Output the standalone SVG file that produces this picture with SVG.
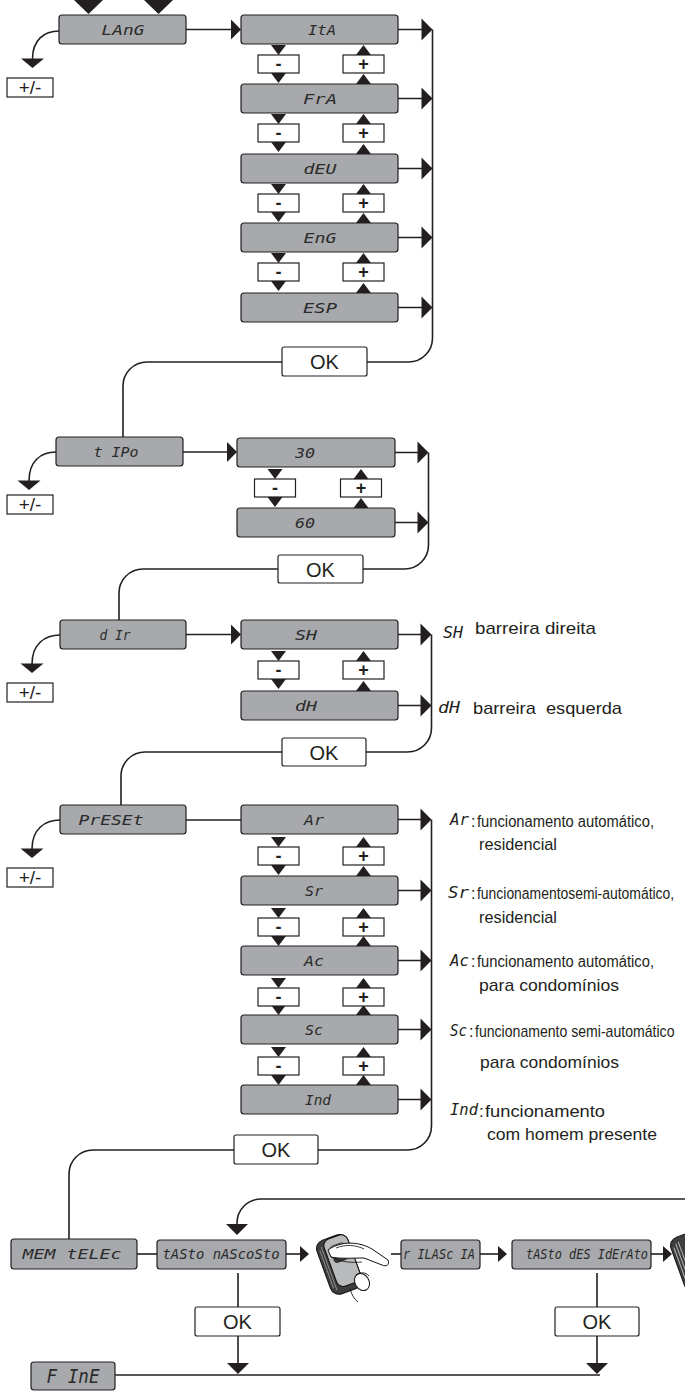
<svg xmlns="http://www.w3.org/2000/svg" xmlns:xlink="http://www.w3.org/1999/xlink" width="685" height="1394" viewBox="0 0 685 1394">
<style>
.lcd{fill:#a7a9ac;stroke:#231f20;stroke-width:1.2}
.btn{fill:#fff;stroke:#231f20;stroke-width:1.2}
.ln{fill:none;stroke:#231f20;stroke-width:1.6}
.k{fill:#231f20}
.seg{font-family:"DejaVu Sans Mono","Liberation Mono",monospace;font-style:oblique;font-size:14px;fill:#2b2b2b;text-anchor:middle}
.segl{font-family:"DejaVu Sans Mono","Liberation Mono",monospace;font-style:oblique;font-size:15px;fill:#231f20}
.ok{font-family:"Liberation Sans",Arial,sans-serif;font-size:20px;fill:#231f20;text-anchor:middle}
.pm{font-family:"Liberation Sans",Arial,sans-serif;font-size:18px;font-weight:bold;fill:#231f20;text-anchor:middle}
.pmx{font-family:"Liberation Sans",Arial,sans-serif;font-size:19px;fill:#231f20;text-anchor:middle}
.d{font-family:"Liberation Sans",Arial,sans-serif;font-size:17px;fill:#231f20}
.dc{font-family:"Liberation Sans",Arial,sans-serif;font-size:16px;fill:#231f20}
</style>
<defs>
<path id="td" d="M-7.5,-10H7.5L0,0Z" class="k"/>
<path id="tu" d="M-7.5,10H7.5L0,0Z" class="k"/>
<path id="ah" d="M-11,-11L0,0L-11,11Z" class="k"/>
<path id="ai" d="M-10,-10L0,0L-10,10Z" class="k"/>
<path id="ahs" d="M-9,-8L0,0L-9,8Z" class="k"/>
<path id="ad" d="M-11,-11H11L0,0Z" class="k"/>
<path id="ap" d="M-11.5,-9.5H11.5L0,0Z" class="k"/>
<g id="mb"><rect x="-20.5" y="0" width="41" height="18" class="btn"/><text x="0" y="15" class="pm">-</text></g>
<g id="pb"><rect x="-20.5" y="0" width="41" height="18" class="btn"/><text x="0" y="15" class="pm">+</text></g>
<g id="pmb"><rect x="0" y="0" width="46" height="19" class="btn"/><text x="23" y="16" class="pmx">+/-</text></g>
</defs>

<!-- connectors -->
<g id="connectors">
<polygon points="74,0 103,0 88.5,14" class="k"/>
<polygon points="144,0 173,0 158.5,14" class="k"/>
<!-- LANG -->
<path class="ln" d="M59,31 C44,31 32.5,40 32.5,59"/>
<use href="#ap" x="32.5" y="68"/>
<path class="ln" d="M186,29.5 H231"/>
<use href="#ai" x="241" y="29.5"/>
<path class="ln" d="M398,29.5 H422 M398,98.5 H422 M398,168.5 H422 M398,237.5 H422 M398,307.5 H422"/>
<use href="#ah" x="432.5" y="29.5"/><use href="#ah" x="432.5" y="98.5"/><use href="#ah" x="432.5" y="168.5"/><use href="#ah" x="432.5" y="237.5"/><use href="#ah" x="432.5" y="307.5"/>
<path class="ln" d="M432.5,29.5 V338 A24,24 0 0 1 408.5,362 H367 M282,362 H147 A24,24 0 0 0 123,386 V437"/>
<use href="#td" x="278.5" y="55"/><use href="#td" x="278.5" y="83"/><use href="#tu" x="363.5" y="45"/><use href="#tu" x="363.5" y="74"/>
<use href="#td" x="278.5" y="124"/><use href="#td" x="278.5" y="152"/><use href="#tu" x="363.5" y="114"/><use href="#tu" x="363.5" y="144"/>
<use href="#td" x="278.5" y="194"/><use href="#td" x="278.5" y="222"/><use href="#tu" x="363.5" y="184"/><use href="#tu" x="363.5" y="213"/>
<use href="#td" x="278.5" y="263"/><use href="#td" x="278.5" y="291"/><use href="#tu" x="363.5" y="253"/><use href="#tu" x="363.5" y="283"/>
<!-- tIPo -->
<path class="ln" d="M56,452 C41,452 29,461 29,481"/>
<use href="#ap" x="29" y="490"/>
<path class="ln" d="M183,452 H227"/>
<use href="#ai" x="237" y="452"/>
<path class="ln" d="M395,452.5 H418 M395,522.5 H418"/>
<use href="#ah" x="428.5" y="452.5"/><use href="#ah" x="428.5" y="522.5"/>
<path class="ln" d="M428.5,452.5 V545 A24,24 0 0 1 404.5,569 H363 M278,569 H143 A24,24 0 0 0 119,593 V620"/>
<use href="#td" x="275" y="479"/><use href="#td" x="275" y="507"/><use href="#tu" x="361" y="469"/><use href="#tu" x="361" y="498"/>
<!-- dIr -->
<path class="ln" d="M60,635 C45,635 32,644 32,664"/>
<use href="#ap" x="32" y="673"/>
<path class="ln" d="M186,634.5 H231"/>
<use href="#ai" x="241" y="634.5"/>
<path class="ln" d="M398,634.5 H421 M398,705.5 H421"/>
<use href="#ah" x="431.5" y="634.5"/><use href="#ah" x="431.5" y="705.5"/>
<path class="ln" d="M431.5,634.5 V728 A24,24 0 0 1 407.5,752 H366 M282,752 H145 A24,24 0 0 0 121,776 V805"/>
<use href="#td" x="278.5" y="661"/><use href="#td" x="278.5" y="689"/><use href="#tu" x="363.5" y="651"/><use href="#tu" x="363.5" y="681"/>
<!-- PrESEt -->
<path class="ln" d="M60,820 C45,820 32,829 32,849"/>
<use href="#ap" x="32" y="858"/>
<path class="ln" d="M186,820 H241"/>
<path class="ln" d="M398,819.5 H421 M398,890.5 H421 M398,960.5 H421 M398,1029.5 H421 M398,1099.5 H421"/>
<use href="#ah" x="431.5" y="819.5"/><use href="#ah" x="431.5" y="890.5"/><use href="#ah" x="431.5" y="960.5"/><use href="#ah" x="431.5" y="1029.5"/><use href="#ah" x="431.5" y="1099.5"/>
<path class="ln" d="M431.5,819.5 V1126 A24,24 0 0 1 407.5,1150 H318 M234,1150 H93 A24,24 0 0 0 69,1174 V1239"/>
<use href="#td" x="278.5" y="847"/><use href="#td" x="278.5" y="875"/><use href="#tu" x="363.5" y="837"/><use href="#tu" x="363.5" y="866"/>
<use href="#td" x="278.5" y="918"/><use href="#td" x="278.5" y="946"/><use href="#tu" x="363.5" y="908"/><use href="#tu" x="363.5" y="936"/>
<use href="#td" x="278.5" y="988"/><use href="#td" x="278.5" y="1015"/><use href="#tu" x="363.5" y="978"/><use href="#tu" x="363.5" y="1005"/>
<use href="#td" x="278.5" y="1057"/><use href="#td" x="278.5" y="1085"/><use href="#tu" x="363.5" y="1047"/><use href="#tu" x="363.5" y="1075"/>
<!-- MEM tELEc -->
<path class="ln" d="M685,1199 H261 A24,24 0 0 0 237,1223 V1226"/>
<use href="#ad" x="237" y="1235"/>
<path class="ln" d="M137,1254 H157"/>
<path class="ln" d="M286,1254 H300"/>
<use href="#ahs" x="309" y="1254"/>
<path class="ln" d="M391,1254 H401"/>
<path class="ln" d="M480,1254 H498"/>
<use href="#ahs" x="507" y="1254"/>
<path class="ln" d="M651,1254 H663"/>
<use href="#ahs" x="672" y="1254"/>
<path class="ln" d="M238,1273 V1307 M238,1336 V1364"/>
<use href="#ad" x="238" y="1374"/>
<path class="ln" d="M597,1273 V1307 M597,1336 V1364"/>
<use href="#ad" x="597" y="1374"/>
<path class="ln" d="M115,1375 H600"/>
</g>

<!-- LANG nodes -->
<g id="n-lang"><rect x="59" y="15" width="127" height="29" rx="3" class="lcd"/><text x="123" y="34.5" class="seg" textLength="43" lengthAdjust="spacingAndGlyphs">LAnG</text></g>
<g id="n-lang-pm"><use href="#pmb" x="7" y="78"/></g>
<g id="n-ita"><rect x="241" y="15" width="157" height="29" rx="3" class="lcd"/><text x="322" y="34.5" class="seg" textLength="28" lengthAdjust="spacingAndGlyphs">ItA</text></g>
<g id="n-fra"><rect x="241" y="84" width="157" height="29" rx="3" class="lcd"/><text x="320" y="103.5" class="seg" textLength="34" lengthAdjust="spacingAndGlyphs">FrA</text></g>
<g id="n-deu"><rect x="241" y="154" width="157" height="29" rx="3" class="lcd"/><text x="320" y="173.5" class="seg" textLength="33" lengthAdjust="spacingAndGlyphs">dEU</text></g>
<g id="n-eng"><rect x="241" y="223" width="157" height="29" rx="3" class="lcd"/><text x="320" y="242.5" class="seg" textLength="33" lengthAdjust="spacingAndGlyphs">EnG</text></g>
<g id="n-esp"><rect x="241" y="293" width="157" height="29" rx="3" class="lcd"/><text x="320" y="312.5" class="seg" textLength="34" lengthAdjust="spacingAndGlyphs">ESP</text></g>
<g id="n-lang-btns">
<use href="#mb" x="278.5" y="55"/><use href="#pb" x="363.5" y="55"/>
<use href="#mb" x="278.5" y="124"/><use href="#pb" x="363.5" y="124"/>
<use href="#mb" x="278.5" y="194"/><use href="#pb" x="363.5" y="194"/>
<use href="#mb" x="278.5" y="263"/><use href="#pb" x="363.5" y="263"/>
</g>
<g id="n-ok1"><rect x="282" y="347" width="85" height="29" rx="2" class="btn"/><text x="324.5" y="369" class="ok">OK</text></g>

<!-- tIPo nodes -->
<g id="n-tipo"><rect x="56" y="437" width="127" height="29" rx="3" class="lcd"/><text x="116" y="456.5" class="seg" textLength="45" lengthAdjust="spacingAndGlyphs">t IPo</text></g>
<g id="n-tipo-pm"><use href="#pmb" x="7" y="495"/></g>
<g id="n-30"><rect x="237" y="438" width="158" height="29" rx="3" class="lcd"/><text x="305" y="457.5" class="seg" textLength="20" lengthAdjust="spacingAndGlyphs">30</text></g>
<g id="n-60"><rect x="237" y="508" width="158" height="29" rx="3" class="lcd"/><text x="305" y="527.5" class="seg" textLength="20" lengthAdjust="spacingAndGlyphs">60</text></g>
<g id="n-tipo-btns"><use href="#mb" x="275" y="479"/><use href="#pb" x="361" y="479"/></g>
<g id="n-ok2"><rect x="278" y="555" width="85" height="28" rx="2" class="btn"/><text x="320.5" y="576.5" class="ok">OK</text></g>

<!-- dIr nodes -->
<g id="n-dir"><rect x="60" y="620" width="126" height="29" rx="3" class="lcd"/><text x="115" y="639.5" class="seg" textLength="31" lengthAdjust="spacingAndGlyphs">d Ir</text></g>
<g id="n-dir-pm"><use href="#pmb" x="7" y="683"/></g>
<g id="n-sh"><rect x="241" y="620" width="157" height="29" rx="3" class="lcd"/><text x="306" y="639.5" class="seg" textLength="22" lengthAdjust="spacingAndGlyphs">SH</text></g>
<g id="n-dh"><rect x="241" y="691" width="157" height="29" rx="3" class="lcd"/><text x="306" y="710.5" class="seg" textLength="22" lengthAdjust="spacingAndGlyphs">dH</text></g>
<g id="n-dir-btns"><use href="#mb" x="278.5" y="661"/><use href="#pb" x="363.5" y="661"/></g>
<g id="n-ok3"><rect x="282" y="738" width="84" height="28" rx="2" class="btn"/><text x="324" y="759.5" class="ok">OK</text></g>
<g id="l-sh"><text x="443" y="638" class="segl" textLength="20" lengthAdjust="spacingAndGlyphs">SH</text><text x="475" y="634" class="d" textLength="121" lengthAdjust="spacingAndGlyphs">barreira direita</text></g>
<g id="l-dh"><text x="438" y="713" class="segl" textLength="22" lengthAdjust="spacingAndGlyphs">dH</text><text x="473" y="714" class="d" textLength="149" lengthAdjust="spacingAndGlyphs" xml:space="preserve">barreira  esquerda</text></g>

<!-- PrESEt nodes -->
<g id="n-preset"><rect x="60" y="805" width="126" height="29" rx="3" class="lcd"/><text x="111" y="824.5" class="seg" textLength="65" lengthAdjust="spacingAndGlyphs">PrESEt</text></g>
<g id="n-preset-pm"><use href="#pmb" x="7" y="868"/></g>
<g id="n-ar"><rect x="241" y="805" width="157" height="29" rx="3" class="lcd"/><text x="314" y="824.5" class="seg" textLength="20" lengthAdjust="spacingAndGlyphs">Ar</text></g>
<g id="n-sr"><rect x="241" y="876" width="157" height="29" rx="3" class="lcd"/><text x="314" y="895.5" class="seg" textLength="18" lengthAdjust="spacingAndGlyphs">Sr</text></g>
<g id="n-ac"><rect x="241" y="946" width="157" height="29" rx="3" class="lcd"/><text x="314" y="965.5" class="seg" textLength="20" lengthAdjust="spacingAndGlyphs">Ac</text></g>
<g id="n-sc"><rect x="241" y="1015" width="157" height="29" rx="3" class="lcd"/><text x="314" y="1034.5" class="seg" textLength="18" lengthAdjust="spacingAndGlyphs">Sc</text></g>
<g id="n-ind"><rect x="241" y="1085" width="157" height="29" rx="3" class="lcd"/><text x="318" y="1104.5" class="seg" textLength="26" lengthAdjust="spacingAndGlyphs">Ind</text></g>
<g id="n-preset-btns">
<use href="#mb" x="278.5" y="847"/><use href="#pb" x="363.5" y="847"/>
<use href="#mb" x="278.5" y="918"/><use href="#pb" x="363.5" y="918"/>
<use href="#mb" x="278.5" y="988"/><use href="#pb" x="363.5" y="988"/>
<use href="#mb" x="278.5" y="1057"/><use href="#pb" x="363.5" y="1057"/>
</g>
<g id="n-ok4"><rect x="234" y="1135" width="84" height="29" rx="2" class="btn"/><text x="276" y="1157" class="ok">OK</text></g>
<g id="l-ar"><text x="450" y="825" class="segl" textLength="19" lengthAdjust="spacingAndGlyphs">Ar</text><text x="471" y="827" class="dc">:</text><text x="477" y="827" class="dc" textLength="177" lengthAdjust="spacingAndGlyphs">funcionamento automático,</text><text x="479" y="850" class="d" textLength="78" lengthAdjust="spacingAndGlyphs">residencial</text></g>
<g id="l-sr"><text x="448" y="898" class="segl" textLength="21" lengthAdjust="spacingAndGlyphs">Sr</text><text x="471" y="899" class="dc">:</text><text class="dc" transform="translate(477,899) scale(0.87,1)">funcionamentosemi-automático,</text><text x="479" y="923" class="d" textLength="78" lengthAdjust="spacingAndGlyphs">residencial</text></g>
<g id="l-ac"><text x="450" y="966" class="segl" textLength="19" lengthAdjust="spacingAndGlyphs">Ac</text><text x="471" y="967" class="dc">:</text><text x="477" y="967" class="dc" textLength="177" lengthAdjust="spacingAndGlyphs">funcionamento automático,</text><text x="479" y="991" class="d" textLength="140" lengthAdjust="spacingAndGlyphs">para condomínios</text></g>
<g id="l-sc"><text x="450" y="1036" class="segl" textLength="17" lengthAdjust="spacingAndGlyphs">Sc</text><text x="469" y="1037" class="dc">:</text><text class="dc" transform="translate(475,1037) scale(0.88,1)">funcionamento semi-automático</text><text x="480" y="1068" class="d" textLength="139" lengthAdjust="spacingAndGlyphs">para condomínios</text></g>
<g id="l-ind"><text x="450" y="1115" class="segl" textLength="28" lengthAdjust="spacingAndGlyphs">Ind</text><text x="479" y="1117" class="d">:</text><text x="485" y="1117" class="d" textLength="120" lengthAdjust="spacingAndGlyphs">funcionamento</text><text x="487" y="1140" class="d" textLength="170" lengthAdjust="spacingAndGlyphs">com homem presente</text></g>

<!-- MEM tELEc nodes -->
<g id="n-mem"><rect x="11" y="1239" width="126" height="30" rx="3" class="lcd"/><text x="72" y="1259" class="seg" textLength="99" lengthAdjust="spacingAndGlyphs">MEM tELEc</text></g>
<g id="n-tasto1"><rect x="157" y="1240" width="129" height="29" rx="3" class="lcd"/><text x="221" y="1259" class="seg" textLength="117" lengthAdjust="spacingAndGlyphs">tASto nAScoSto</text></g>
<g id="n-remote1">
<g transform="translate(339,1265) rotate(-20)">
<rect x="-16" y="-29" width="33" height="57" rx="9" fill="#3d3d3f" stroke="#111" stroke-width="1"/>
<path d="M-13,-20 V20 M-10.5,-23 V23" stroke="#9a9a9a" stroke-width="0.8" fill="none"/>
<rect x="-8" y="-28" width="25" height="50" rx="7" fill="#b8babc" stroke="#111" stroke-width="1"/>
<rect x="-3" y="-20" width="15" height="6" rx="3" fill="#fff" stroke="#111" stroke-width="0.8"/>
<rect x="-3" y="-9" width="15" height="6" rx="3" fill="#444" stroke="#111" stroke-width="0.8"/>
</g>
<path d="M328,1250 C342,1240 360,1242 372,1249 L388,1260 C390,1265 386,1267 382,1265 L364,1258 C352,1258 340,1259 331,1257 Z" fill="#fff" stroke="#111" stroke-width="1"/>
<path d="M331,1257 C340,1262 352,1263 362,1262" fill="none" stroke="#111" stroke-width="0.8"/>
<path d="M336,1248 C346,1244 356,1245 364,1249" fill="none" stroke="#111" stroke-width="0.8"/>
<ellipse cx="362" cy="1282" rx="7" ry="9" transform="rotate(-30 362 1282)" fill="#fff" stroke="#111" stroke-width="1"/>
<path d="M350,1289 C352,1295 354,1299 358,1302 M356,1275 C360,1272 366,1272 369,1276" fill="none" stroke="#111" stroke-width="0.9"/>
</g>
<g id="n-rilascia"><rect x="401" y="1240" width="79" height="29" rx="3" class="lcd"/><text x="439" y="1259" class="seg" textLength="72" lengthAdjust="spacingAndGlyphs">r ILASc IA</text></g>
<g id="n-tasto2"><rect x="512" y="1240" width="139" height="29" rx="3" class="lcd"/><text x="587" y="1259" class="seg" textLength="122" lengthAdjust="spacingAndGlyphs">tASto dES IdErAto</text></g>
<g id="n-remote2">
<g transform="translate(693,1262) rotate(-20)">
<rect x="-16" y="-29" width="33" height="57" rx="9" fill="#3d3d3f" stroke="#111" stroke-width="1"/>
<path d="M-13,-20 V20 M-10,-23 V23 M-7,-24 V24" stroke="#bbb" stroke-width="0.9" fill="none"/>
</g>
</g>
<g id="n-ok5"><rect x="195" y="1307" width="85" height="29" rx="2" class="btn"/><text x="237.5" y="1329" class="ok">OK</text></g>
<g id="n-ok6"><rect x="555" y="1307" width="84" height="29" rx="2" class="btn"/><text x="597" y="1329" class="ok">OK</text></g>
<g id="n-fine"><rect x="31" y="1362" width="84" height="28" rx="3" class="lcd"/><text x="73" y="1383" class="seg" style="font-size:19px" textLength="53" lengthAdjust="spacingAndGlyphs">F InE</text></g>
</svg>
